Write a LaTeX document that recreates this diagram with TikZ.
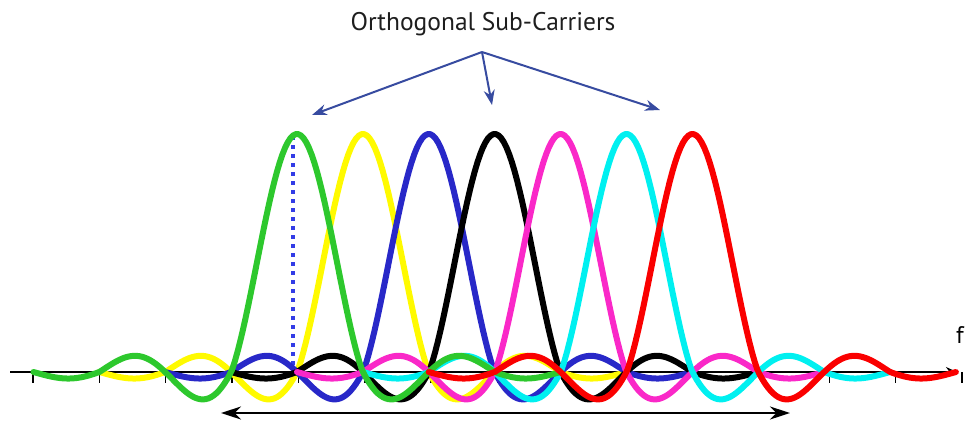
\documentclass[tikz,border=0pt]{standalone}
\usepackage{fontspec}
\setmainfont{PT Sans}
\usetikzlibrary{arrows.meta}
\definecolor{cgreen}{RGB}{45,200,45}
\definecolor{cyellow}{RGB}{255,250,0}
\definecolor{cblue}{RGB}{40,40,200}
\definecolor{cblack}{RGB}{0,0,0}
\definecolor{cmag}{RGB}{250,40,200}
\definecolor{ccyan}{RGB}{0,240,240}
\definecolor{cred}{RGB}{250,0,0}
\definecolor{cdot}{RGB}{50,60,230}
\definecolor{carrow}{RGB}{55,75,160}
\definecolor{ctext}{RGB}{30,30,30}
\begin{document}
\begin{tikzpicture}[x=1pt,y=-1pt,
  carrier/.style={line width=6pt, line join=round, line cap=round},
  pointer/.style={carrow, line width=2pt, -{Stealth[length=15pt,width=11pt]}},
  declare function={sincf(\u)=sin(180*\u)/(pi*\u);
                    envf(\u)=ifthenelse(abs(\u)<1,(abs(sincf(\u))+0.0001)^0.1,ifthenelse(abs(\u)<3,0.53,0.3));}]
\useasboundingbox (0,0) rectangle (966,421);
% title and pointers
\node[font=\fontsize{25.5}{30}\selectfont, text=ctext] (title) at (483,24) {Orthogonal Sub-Carriers};
\coordinate (apex) at (482,52);
\coordinate (p1) at (312,115);
\coordinate (p2) at (492,105);
\coordinate (p3) at (660,110);
\draw[pointer] (apex) -- (p1);
\draw[pointer] (apex) -- (p2);
\draw[pointer] (apex) -- (p3);
% axis
\coordinate (ax0) at (10,372);
\coordinate (ax1) at (957,372);
\draw[line width=2.5pt, -{Stealth[length=11pt,width=10pt]}] (ax0) -- (ax1);
\foreach \i in {0,...,14}
  \draw[line width=1.5pt] (33+66.36*\i,372) -- ++(0,11);
\node[font=\fontsize{24}{28}\selectfont, anchor=base east, inner sep=0pt] (flabel) at (964,343) {f};
% dotted marker
\coordinate (dtop) at (293,136);
\coordinate (dbot) at (293,372);
\draw[cdot, line width=3.5pt, dash pattern=on 3.5pt off 5.5pt] (dtop) -- (dbot);
% carriers
\foreach \k/\col in {1/cyellow,2/cblue,3/cblack,4/cmag,5/ccyan,0/cgreen,6/cred}
  \draw[carrier,\col] plot[domain=-4:4,samples=200]
    ({297+65.9*\k+65.9*\x},{372-238*sincf(\x)*envf(\x)});
% bandwidth arrow
\coordinate (b0) at (221,413);
\coordinate (b1) at (790,413);
\draw[line width=2pt, {Stealth[length=20pt,width=13pt]}-{Stealth[length=20pt,width=13pt]}] (b0) -- (b1);
\end{tikzpicture}
\end{document}
